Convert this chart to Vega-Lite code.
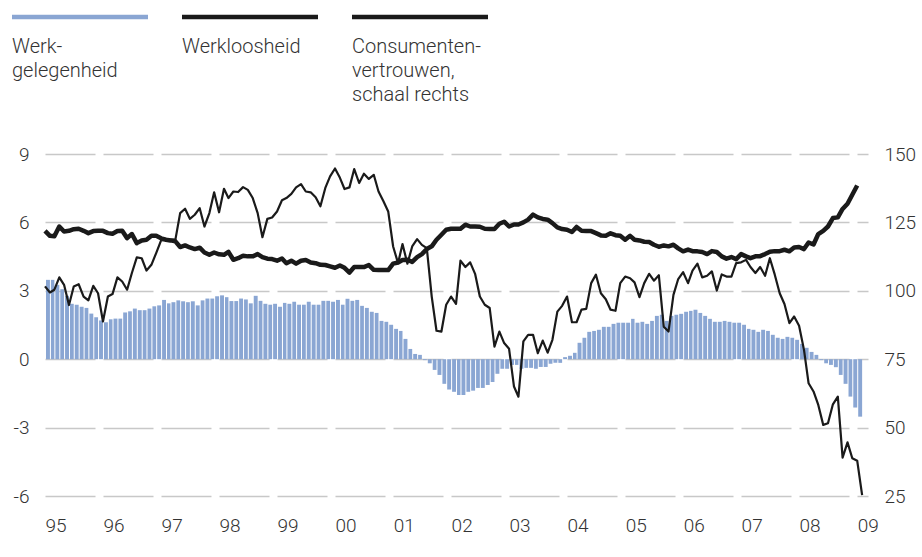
{
  "$schema": "https://vega.github.io/schema/vega-lite/v6.json",
  "padding": {"left": 12, "top": 0, "right": 4, "bottom": 4},
  "background": "white",
  "config": {
    "view": {"stroke": null},
    "font": "Roboto",
    "axis": {"labelFont": "Roboto", "labelFontWeight": 300, "labelFontSize": 19, "labelColor": "#333333", "ticks": false, "domain": false, "title": null}
  },
  "spacing": 40,
  "datasets": {
    "legend": [
      {"s": "Werkgelegenheid", "label": "Werk-\ngelegenheid"},
      {"s": "Werkloosheid", "label": "Werkloosheid"},
      {"s": "Consumentenvertrouwen", "label": "Consumenten-\nvertrouwen,\nschaal rechts"}
    ],
    "main": [
      {"date": "1995-01-01", "wg": 3.48, "wl": 5.63, "cv": 101.6},
      {"date": "1995-02-01", "wg": 3.48, "wl": 5.41, "cv": 99.4},
      {"date": "1995-03-01", "wg": 3.26, "wl": 5.39, "cv": 100.4},
      {"date": "1995-04-01", "wg": 3.07, "wl": 5.82, "cv": 104.9},
      {"date": "1995-05-01", "wg": 2.78, "wl": 5.6, "cv": 102.2},
      {"date": "1995-06-01", "wg": 2.43, "wl": 5.63, "cv": 94.8},
      {"date": "1995-07-01", "wg": 2.39, "wl": 5.7, "cv": 101.6},
      {"date": "1995-08-01", "wg": 2.30, "wl": 5.72, "cv": 102.4},
      {"date": "1995-09-01", "wg": 2.25, "wl": 5.63, "cv": 97.9},
      {"date": "1995-10-01", "wg": 2.0, "wl": 5.53, "cv": 96.5},
      {"date": "1995-11-01", "wg": 1.84, "wl": 5.62, "cv": 101.8},
      {"date": "1995-12-01", "wg": 1.7, "wl": 5.63, "cv": 99.1},
      {"date": "1996-01-01", "wg": 1.62, "wl": 5.63, "cv": 88.8},
      {"date": "1996-02-01", "wg": 1.75, "wl": 5.53, "cv": 97.9},
      {"date": "1996-03-01", "wg": 1.78, "wl": 5.5, "cv": 98.8},
      {"date": "1996-04-01", "wg": 1.78, "wl": 5.62, "cv": 104.9},
      {"date": "1996-05-01", "wg": 2.05, "wl": 5.63, "cv": 103.4},
      {"date": "1996-06-01", "wg": 2.1, "wl": 5.31, "cv": 100.4},
      {"date": "1996-07-01", "wg": 2.22, "wl": 5.49, "cv": 106.5},
      {"date": "1996-08-01", "wg": 2.15, "wl": 5.09, "cv": 112.2},
      {"date": "1996-09-01", "wg": 2.15, "wl": 5.21, "cv": 111.9},
      {"date": "1996-10-01", "wg": 2.22, "wl": 5.24, "cv": 107.4},
      {"date": "1996-11-01", "wg": 2.32, "wl": 5.41, "cv": 109.5},
      {"date": "1996-12-01", "wg": 2.36, "wl": 5.41, "cv": 113.8},
      {"date": "1997-01-01", "wg": 2.6, "wl": 5.3, "cv": 118.4},
      {"date": "1997-02-01", "wg": 2.45, "wl": 5.24, "cv": 118.7},
      {"date": "1997-03-01", "wg": 2.5, "wl": 5.21, "cv": 118.7},
      {"date": "1997-04-01", "wg": 2.58, "wl": 5.17, "cv": 118.7},
      {"date": "1997-05-01", "wg": 2.54, "wl": 4.92, "cv": 128.4},
      {"date": "1997-06-01", "wg": 2.5, "wl": 4.99, "cv": 130.0},
      {"date": "1997-07-01", "wg": 2.54, "wl": 4.9, "cv": 126.3},
      {"date": "1997-08-01", "wg": 2.36, "wl": 4.83, "cv": 127.8},
      {"date": "1997-09-01", "wg": 2.58, "wl": 4.89, "cv": 130.2},
      {"date": "1997-10-01", "wg": 2.66, "wl": 4.68, "cv": 123.5},
      {"date": "1997-11-01", "wg": 2.66, "wl": 4.58, "cv": 128.4},
      {"date": "1997-12-01", "wg": 2.76, "wl": 4.68, "cv": 136.0},
      {"date": "1998-01-01", "wg": 2.8, "wl": 4.6, "cv": 128.7},
      {"date": "1998-02-01", "wg": 2.72, "wl": 4.58, "cv": 137.3},
      {"date": "1998-03-01", "wg": 2.55, "wl": 4.71, "cv": 133.9},
      {"date": "1998-04-01", "wg": 2.55, "wl": 4.36, "cv": 136.3},
      {"date": "1998-05-01", "wg": 2.66, "wl": 4.43, "cv": 136.1},
      {"date": "1998-06-01", "wg": 2.62, "wl": 4.54, "cv": 137.9},
      {"date": "1998-07-01", "wg": 2.45, "wl": 4.51, "cv": 136.9},
      {"date": "1998-08-01", "wg": 2.78, "wl": 4.51, "cv": 133.9},
      {"date": "1998-09-01", "wg": 2.56, "wl": 4.61, "cv": 128.4},
      {"date": "1998-10-01", "wg": 2.43, "wl": 4.48, "cv": 119.6},
      {"date": "1998-11-01", "wg": 2.39, "wl": 4.41, "cv": 126.3},
      {"date": "1998-12-01", "wg": 2.43, "wl": 4.39, "cv": 126.8},
      {"date": "1999-01-01", "wg": 2.30, "wl": 4.32, "cv": 129.0},
      {"date": "1999-02-01", "wg": 2.47, "wl": 4.42, "cv": 133.1},
      {"date": "1999-03-01", "wg": 2.43, "wl": 4.21, "cv": 133.9},
      {"date": "1999-04-01", "wg": 2.52, "wl": 4.32, "cv": 135.4},
      {"date": "1999-05-01", "wg": 2.39, "wl": 4.19, "cv": 137.8},
      {"date": "1999-06-01", "wg": 2.39, "wl": 4.32, "cv": 139.0},
      {"date": "1999-07-01", "wg": 2.52, "wl": 4.35, "cv": 136.3},
      {"date": "1999-08-01", "wg": 2.39, "wl": 4.24, "cv": 136.0},
      {"date": "1999-09-01", "wg": 2.39, "wl": 4.21, "cv": 134.2},
      {"date": "1999-10-01", "wg": 2.56, "wl": 4.14, "cv": 130.9},
      {"date": "1999-11-01", "wg": 2.56, "wl": 4.13, "cv": 137.6},
      {"date": "1999-12-01", "wg": 2.52, "wl": 4.07, "cv": 141.8},
      {"date": "2000-01-01", "wg": 2.60, "wl": 4.01, "cv": 144.7},
      {"date": "2000-02-01", "wg": 2.39, "wl": 4.11, "cv": 141.3},
      {"date": "2000-03-01", "wg": 2.65, "wl": 4.01, "cv": 137.2},
      {"date": "2000-04-01", "wg": 2.56, "wl": 3.8, "cv": 137.8},
      {"date": "2000-05-01", "wg": 2.60, "wl": 4.04, "cv": 144.5},
      {"date": "2000-06-01", "wg": 2.34, "wl": 4.04, "cv": 139.4},
      {"date": "2000-07-01", "wg": 2.25, "wl": 4.04, "cv": 142.8},
      {"date": "2000-08-01", "wg": 2.08, "wl": 4.13, "cv": 140.9},
      {"date": "2000-09-01", "wg": 2.03, "wl": 3.92, "cv": 142.4},
      {"date": "2000-10-01", "wg": 1.68, "wl": 3.91, "cv": 136.3},
      {"date": "2000-11-01", "wg": 1.64, "wl": 3.91, "cv": 132.7},
      {"date": "2000-12-01", "wg": 1.51, "wl": 3.91, "cv": 129.0},
      {"date": "2001-01-01", "wg": 1.33, "wl": 4.19, "cv": 116.2},
      {"date": "2001-02-01", "wg": 1.24, "wl": 4.24, "cv": 110.1},
      {"date": "2001-03-01", "wg": 0.89, "wl": 4.35, "cv": 117.1},
      {"date": "2001-04-01", "wg": 0.45, "wl": 4.36, "cv": 109.9},
      {"date": "2001-05-01", "wg": 0.23, "wl": 4.27, "cv": 116.2},
      {"date": "2001-06-01", "wg": 0.19, "wl": 4.48, "cv": 118.9},
      {"date": "2001-07-01", "wg": -0.04, "wl": 4.61, "cv": 116.8},
      {"date": "2001-08-01", "wg": -0.18, "wl": 4.83, "cv": 115.6},
      {"date": "2001-09-01", "wg": -0.47, "wl": 4.95, "cv": 97.9},
      {"date": "2001-10-01", "wg": -0.69, "wl": 5.24, "cv": 85.4},
      {"date": "2001-11-01", "wg": -1.08, "wl": 5.46, "cv": 85.1},
      {"date": "2001-12-01", "wg": -1.33, "wl": 5.68, "cv": 94.9},
      {"date": "2002-01-01", "wg": -1.43, "wl": 5.72, "cv": 97.9},
      {"date": "2002-02-01", "wg": -1.57, "wl": 5.72, "cv": 95.2},
      {"date": "2002-03-01", "wg": -1.57, "wl": 5.72, "cv": 111.0},
      {"date": "2002-04-01", "wg": -1.43, "wl": 5.9, "cv": 108.7},
      {"date": "2002-05-01", "wg": -1.38, "wl": 5.82, "cv": 110.4},
      {"date": "2002-06-01", "wg": -1.26, "wl": 5.82, "cv": 106.2},
      {"date": "2002-07-01", "wg": -1.26, "wl": 5.81, "cv": 97.9},
      {"date": "2002-08-01", "wg": -1.13, "wl": 5.72, "cv": 94.9},
      {"date": "2002-09-01", "wg": -1.0, "wl": 5.71, "cv": 93.7},
      {"date": "2002-10-01", "wg": -0.64, "wl": 5.71, "cv": 79.6},
      {"date": "2002-11-01", "wg": -0.42, "wl": 5.94, "cv": 85.1},
      {"date": "2002-12-01", "wg": -0.42, "wl": 6.03, "cv": 80.9},
      {"date": "2003-01-01", "wg": -0.25, "wl": 5.82, "cv": 78.8},
      {"date": "2003-02-01", "wg": -0.25, "wl": 5.91, "cv": 65.0},
      {"date": "2003-03-01", "wg": -0.42, "wl": 5.91, "cv": 61.3},
      {"date": "2003-04-01", "wg": -0.38, "wl": 6.0, "cv": 81.5},
      {"date": "2003-05-01", "wg": -0.38, "wl": 6.12, "cv": 83.9},
      {"date": "2003-06-01", "wg": -0.42, "wl": 6.34, "cv": 83.9},
      {"date": "2003-07-01", "wg": -0.34, "wl": 6.22, "cv": 77.2},
      {"date": "2003-08-01", "wg": -0.34, "wl": 6.15, "cv": 81.8},
      {"date": "2003-09-01", "wg": -0.2, "wl": 6.12, "cv": 77.4},
      {"date": "2003-10-01", "wg": -0.16, "wl": 5.97, "cv": 82.1},
      {"date": "2003-11-01", "wg": -0.16, "wl": 5.78, "cv": 92.4},
      {"date": "2003-12-01", "wg": 0.09, "wl": 5.71, "cv": 94.5},
      {"date": "2004-01-01", "wg": 0.15, "wl": 5.68, "cv": 97.9},
      {"date": "2004-02-01", "wg": 0.28, "wl": 5.58, "cv": 88.5},
      {"date": "2004-03-01", "wg": 0.72, "wl": 5.8, "cv": 88.5},
      {"date": "2004-04-01", "wg": 0.94, "wl": 5.63, "cv": 93.1},
      {"date": "2004-05-01", "wg": 1.2, "wl": 5.62, "cv": 93.4},
      {"date": "2004-06-01", "wg": 1.24, "wl": 5.62, "cv": 102.8},
      {"date": "2004-07-01", "wg": 1.29, "wl": 5.53, "cv": 105.9},
      {"date": "2004-08-01", "wg": 1.42, "wl": 5.43, "cv": 99.1},
      {"date": "2004-09-01", "wg": 1.42, "wl": 5.41, "cv": 96.9},
      {"date": "2004-10-01", "wg": 1.55, "wl": 5.52, "cv": 93.1},
      {"date": "2004-11-01", "wg": 1.6, "wl": 5.44, "cv": 92.7},
      {"date": "2004-12-01", "wg": 1.6, "wl": 5.41, "cv": 102.8},
      {"date": "2005-01-01", "wg": 1.6, "wl": 5.24, "cv": 105.2},
      {"date": "2005-02-01", "wg": 1.77, "wl": 5.41, "cv": 104.6},
      {"date": "2005-03-01", "wg": 1.6, "wl": 5.24, "cv": 103.1},
      {"date": "2005-04-01", "wg": 1.64, "wl": 5.21, "cv": 97.7},
      {"date": "2005-05-01", "wg": 1.55, "wl": 5.15, "cv": 102.8},
      {"date": "2005-06-01", "wg": 1.68, "wl": 5.14, "cv": 106.2},
      {"date": "2005-07-01", "wg": 1.9, "wl": 5.02, "cv": 103.7},
      {"date": "2005-08-01", "wg": 1.95, "wl": 4.93, "cv": 105.7},
      {"date": "2005-09-01", "wg": 1.68, "wl": 4.99, "cv": 86.9},
      {"date": "2005-10-01", "wg": 1.9, "wl": 4.95, "cv": 85.1},
      {"date": "2005-11-01", "wg": 1.95, "wl": 5.02, "cv": 98.5},
      {"date": "2005-12-01", "wg": 1.99, "wl": 4.86, "cv": 104.3},
      {"date": "2006-01-01", "wg": 2.08, "wl": 4.73, "cv": 106.8},
      {"date": "2006-02-01", "wg": 2.12, "wl": 4.81, "cv": 102.8},
      {"date": "2006-03-01", "wg": 2.17, "wl": 4.74, "cv": 107.4},
      {"date": "2006-04-01", "wg": 2.03, "wl": 4.73, "cv": 109.9},
      {"date": "2006-05-01", "wg": 1.9, "wl": 4.7, "cv": 104.9},
      {"date": "2006-06-01", "wg": 1.77, "wl": 4.61, "cv": 105.5},
      {"date": "2006-07-01", "wg": 1.64, "wl": 4.74, "cv": 107.1},
      {"date": "2006-08-01", "wg": 1.64, "wl": 4.7, "cv": 100.1},
      {"date": "2006-09-01", "wg": 1.68, "wl": 4.51, "cv": 106.0},
      {"date": "2006-10-01", "wg": 1.64, "wl": 4.41, "cv": 105.2},
      {"date": "2006-11-01", "wg": 1.6, "wl": 4.48, "cv": 105.2},
      {"date": "2006-12-01", "wg": 1.6, "wl": 4.39, "cv": 110.1},
      {"date": "2007-01-01", "wg": 1.51, "wl": 4.61, "cv": 110.4},
      {"date": "2007-02-01", "wg": 1.33, "wl": 4.51, "cv": 111.3},
      {"date": "2007-03-01", "wg": 1.29, "wl": 4.43, "cv": 108.7},
      {"date": "2007-04-01", "wg": 1.2, "wl": 4.51, "cv": 106.5},
      {"date": "2007-05-01", "wg": 1.29, "wl": 4.52, "cv": 108.7},
      {"date": "2007-06-01", "wg": 1.24, "wl": 4.61, "cv": 105.5},
      {"date": "2007-07-01", "wg": 1.07, "wl": 4.71, "cv": 111.9},
      {"date": "2007-08-01", "wg": 0.94, "wl": 4.74, "cv": 105.9},
      {"date": "2007-09-01", "wg": 0.89, "wl": 4.74, "cv": 99.1},
      {"date": "2007-10-01", "wg": 0.98, "wl": 4.8, "cv": 95.2},
      {"date": "2007-11-01", "wg": 0.94, "wl": 4.73, "cv": 88.2},
      {"date": "2007-12-01", "wg": 0.85, "wl": 4.9, "cv": 90.6},
      {"date": "2008-01-01", "wg": 0.67, "wl": 4.92, "cv": 87.2},
      {"date": "2008-02-01", "wg": 0.5, "wl": 4.83, "cv": 78.4},
      {"date": "2008-03-01", "wg": 0.32, "wl": 5.12, "cv": 66.2},
      {"date": "2008-04-01", "wg": 0.19, "wl": 5.03, "cv": 63.2},
      {"date": "2008-05-01", "wg": -0.04, "wl": 5.49, "cv": 58.3},
      {"date": "2008-06-01", "wg": -0.18, "wl": 5.63, "cv": 51.0},
      {"date": "2008-07-01", "wg": -0.25, "wl": 5.82, "cv": 51.6},
      {"date": "2008-08-01", "wg": -0.35, "wl": 6.19, "cv": 58.5},
      {"date": "2008-09-01", "wg": -0.69, "wl": 6.22, "cv": 61.3},
      {"date": "2008-10-01", "wg": -1.08, "wl": 6.59, "cv": 39.0},
      {"date": "2008-11-01", "wg": -1.64, "wl": 6.82, "cv": 44.6},
      {"date": "2008-12-01", "wg": -2.12, "wl": 7.21, "cv": 38.8},
      {"date": "2009-01-01", "wg": -2.52, "wl": 7.62, "cv": 37.9},
      {"date": "2009-02-01", "wg": null, "wl": null, "cv": 25.3}
    ]
  },
  "vconcat": [
    {
      "width": 476,
      "height": 34,
      "data": {"name": "legend"},
      "layer": [
        {
          "mark": {"type": "tick", "orient": "horizontal", "thickness": 4.5, "opacity": 1},
          "encoding": {
            "x": {"field": "s", "type": "nominal", "sort": null, "scale": {"paddingInner": 0.2, "paddingOuter": 0, "range": [-33, 443]}, "axis": null},
            "color": {"field": "s", "type": "nominal", "scale": {"domain": ["Werkgelegenheid", "Werkloosheid", "Consumentenvertrouwen"], "range": ["#8aa6d3", "#1a1a1a", "#1a1a1a"]}, "legend": null},
            "size": {"value": 136}
          }
        },
        {
          "mark": {"type": "text", "align": "left", "baseline": "top", "dy": 20, "lineBreak": "\n", "lineHeight": 24, "fontSize": 20, "fontWeight": 300, "font": "Roboto", "color": "#333333"},
          "encoding": {
            "x": {"field": "s", "type": "nominal", "sort": null, "bandPosition": 0},
            "text": {"field": "label"}
          }
        }
      ]
    },
    {
      "width": 823,
      "height": 342,
      "data": {"name": "main"},
      "layer": [
        {
          "mark": {"type": "bar", "color": "#8aa6d3", "timeUnitBandSize": 0.82},
          "encoding": {
            "x": {"field": "date", "type": "temporal", "timeUnit": "utcyearmonth",
              "scale": {"type": "utc", "domain": [{"year": 1995, "month": 1, "date": 1, "utc": true}, {"year": 2009, "month": 3, "date": 10, "utc": true}]},
              "axis": {"format": "%y", "labelAlign": "left", "labelPadding": 20, "labelFlush": false, "labelOverlap": false, "grid": false, "tickCount": {"interval": "year", "step": 1}}},
            "y": {"field": "wg", "type": "quantitative", "scale": {"domain": [-6, 9], "nice": false, "zero": false},
              "axis": {"values": [-6, -3, 0, 3, 6, 9], "grid": true, "gridDash": [50, 8], "gridColor": "#c8c8c8", "gridWidth": 1.5, "labelPadding": 16, "labelExpr": "replace(datum.label, '\u2212', '-')"}}
          }
        },
        {
          "mark": {"type": "line", "color": "#1a1a1a", "strokeWidth": 4.5, "strokeJoin": "round"},
          "encoding": {
            "x": {"field": "date", "type": "temporal"},
            "y": {"field": "wl", "type": "quantitative", "scale": {"domain": [-6, 9], "nice": false, "zero": false}, "axis": null}
          }
        },
        {
          "mark": {"type": "line", "color": "#1a1a1a", "strokeWidth": 2.2, "strokeJoin": "round"},
          "encoding": {
            "x": {"field": "date", "type": "temporal"},
            "y": {"field": "cv", "type": "quantitative", "scale": {"domain": [25, 150], "nice": false, "zero": false},
              "axis": {"orient": "right", "values": [25, 50, 75, 100, 125, 150], "grid": false, "labelPadding": 16}}
          }
        }
      ],
      "resolve": {"scale": {"y": "independent"}}
    }
  ]
}
